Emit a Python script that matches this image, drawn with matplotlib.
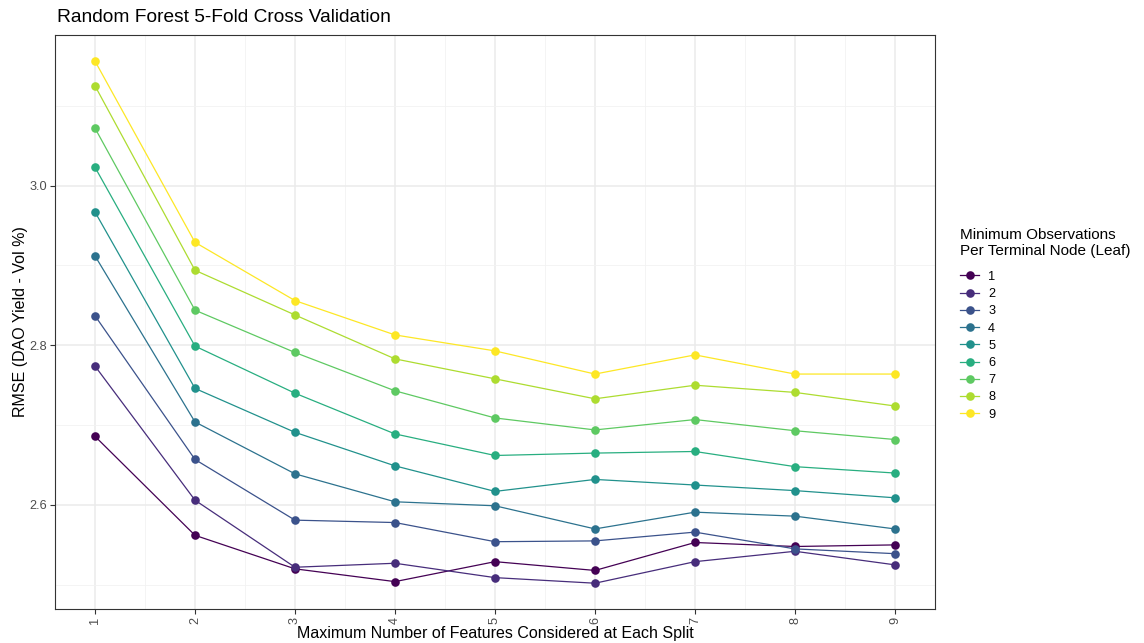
import numpy as np
import matplotlib.pyplot as plt

plt.rcParams['font.family'] = ['Liberation Sans', 'DejaVu Sans']

# max features tried at each split (mtry)
mtry = [1, 2, 3, 4, 5, 6, 7, 8, 9]

# cross-validated RMSE for each minimum node size
rmse_node1 = [2.686, 2.562, 2.520, 2.504, 2.529, 2.518, 2.553, 2.548, 2.550]
rmse_node2 = [2.774, 2.606, 2.522, 2.527, 2.509, 2.502, 2.529, 2.542, 2.525]
rmse_node3 = [2.837, 2.657, 2.581, 2.578, 2.554, 2.555, 2.566, 2.545, 2.539]
rmse_node4 = [2.912, 2.704, 2.639, 2.604, 2.599, 2.570, 2.591, 2.586, 2.570]
rmse_node5 = [2.967, 2.746, 2.691, 2.649, 2.617, 2.632, 2.625, 2.618, 2.609]
rmse_node6 = [3.023, 2.799, 2.740, 2.689, 2.662, 2.665, 2.667, 2.648, 2.640]
rmse_node7 = [3.072, 2.844, 2.791, 2.743, 2.709, 2.694, 2.707, 2.693, 2.682]
rmse_node8 = [3.125, 2.894, 2.838, 2.783, 2.758, 2.733, 2.750, 2.741, 2.724]
rmse_node9 = [3.156, 2.929, 2.856, 2.813, 2.793, 2.764, 2.788, 2.764, 2.764]

node_sizes = ['1', '2', '3', '4', '5', '6', '7', '8', '9']
rmse = [rmse_node1, rmse_node2, rmse_node3, rmse_node4, rmse_node5,
        rmse_node6, rmse_node7, rmse_node8, rmse_node9]

colors = plt.cm.viridis(np.linspace(0, 1, len(node_sizes)))

fig = plt.figure(figsize=(11.44, 6.43), dpi=100)
ax = fig.add_axes([55 / 1144, 1 - 609 / 643, 880 / 1144, 574 / 643])

for label, vals, col in zip(node_sizes, rmse, colors):
    ax.plot(mtry, vals, color=col, linewidth=0.9, marker='o', markersize=6.2,
            markeredgewidth=0, label=label, zorder=3)

# axis ranges with 5% padding
ax.set_xlim(0.6, 9.4)
ax.set_ylim(2.4697, 3.1887)

ax.set_xticks(mtry)
ax.set_xticklabels(node_sizes, rotation=90)
ax.set_yticks([2.6, 2.8, 3.0])
ax.set_yticklabels(['2.6', '2.8', '3.0'])
ax.set_xticks(np.arange(1.5, 9, 1), minor=True)
ax.set_yticks([2.5, 2.7, 2.9, 3.1], minor=True)

ax.grid(which='major', color='#ebebeb', linewidth=1.1, zorder=0)
ax.grid(which='minor', color='#f2f2f2', linewidth=0.6, zorder=0)
ax.set_axisbelow(True)

for s in ax.spines.values():
    s.set_color('#333333')
    s.set_linewidth(0.8)

ax.tick_params(which='major', length=3.5, width=0.8, color='#333333',
               labelsize=9.2, labelcolor='#4d4d4d', pad=2.5)
ax.tick_params(which='minor', length=0)

ax.set_xlabel('Maximum Number of Features Considered at Each Split',
              fontsize=11.5, labelpad=1)
ax.set_ylabel('RMSE (DAO Yield - Vol %)', fontsize=11.5, labelpad=1)
fig.text(57 / 1144, 1 - 17 / 643, 'Random Forest 5-Fold Cross Validation',
         fontsize=13.8, va='center', ha='left')

handles, labels = ax.get_legend_handles_labels()
leg = fig.legend(handles, labels, loc='upper left',
                 bbox_to_anchor=(955 / 1144, 1 - 223 / 643),
                 title='Minimum Observations\nPer Terminal Node (Leaf)',
                 frameon=False, fontsize=9.2, title_fontsize=11,
                 handlelength=1.5, handletextpad=0.7, labelspacing=0.41,
                 borderaxespad=0)
leg._legend_box.align = 'left'
leg._legend_box.sep = 9

fig.savefig('out.png', dpi=100)
